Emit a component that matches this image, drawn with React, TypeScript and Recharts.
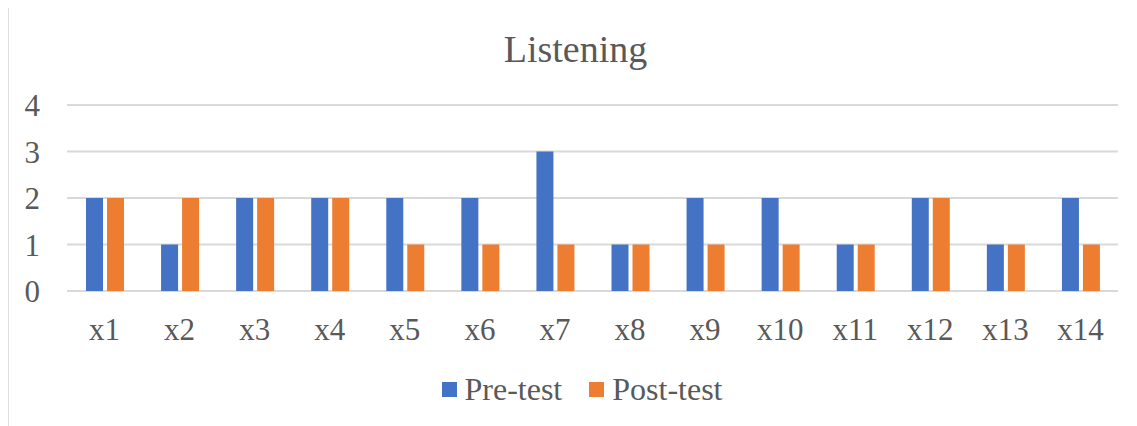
import React from "react";
import { BarChart, Bar, XAxis, YAxis, CartesianGrid } from "recharts";

// Listening scores per item, before and after the course
const items = ["x1", "x2", "x3", "x4", "x5", "x6", "x7", "x8", "x9", "x10", "x11", "x12", "x13", "x14"];
const preTest = [2, 1, 2, 2, 2, 2, 3, 1, 2, 2, 1, 2, 1, 2];
const postTest = [2, 2, 2, 2, 1, 1, 1, 1, 1, 1, 1, 2, 1, 1];
const yTicks = [0, 1, 2, 3, 4];

const seriesNames = { pre: "Pre-test", post: "Post-test" };
const BLUE = "#4472C4";
const ORANGE = "#ED7D31";
const TEXT = "#595959";
const GRID = "#D9D9D9";
const FRAME = "#D4D4D4";
const FONT = "'Liberation Serif', 'Times New Roman', serif";

const data = items.map((name, i) => ({ name, pre: preTest[i], post: postTest[i] }));

export default function App() {
  return (
    <div style={{ position: "relative", width: 1137, height: 426, margin: "-8px 0 0 -8px", overflow: "hidden" }}>
      <svg
        width={1137}
        height={426}
        style={{ position: "absolute", left: 0, top: 0 }}
      >
        <rect x={0} y={0} width={1137} height={426} fill="#ffffff" />
        {/* chart frame: only its left and top edges fall inside the view */}
        <path d="M7.5 426 L7.5 6.5 L1137 6.5" fill="none" stroke={FRAME} strokeWidth={2.5} />
        <text
          x={575.5}
          y={62}
          textAnchor="middle"
          fontFamily={FONT}
          fontSize={38}
          fill={TEXT}
        >
          Listening
        </text>
      </svg>
      <BarChart
        width={1137}
        height={426}
        data={data}
        margin={{ top: 105, right: 19, left: 7, bottom: 95 }}
        barSize={17}
        barGap={4}
        style={{ position: "absolute", left: 0, top: 0 }}
      >
        <CartesianGrid vertical={false} stroke={GRID} strokeWidth={2} />
        <XAxis
          dataKey="name"
          axisLine={false}
          tickLine={false}
          tickSize={0}
          tickMargin={27}
          height={40}
          interval={0}
          tick={{ fill: TEXT, fontSize: 31, fontFamily: FONT }}
        />
        <YAxis
          domain={[0, 4]}
          ticks={yTicks}
          axisLine={false}
          tickLine={false}
          tickSize={0}
          tickMargin={27}
          width={60}
          tick={{ fill: TEXT, fontSize: 31, fontFamily: FONT }}
        />
        <Bar dataKey="pre" name={seriesNames.pre} fill={BLUE} isAnimationActive={false} />
        <Bar dataKey="post" name={seriesNames.post} fill={ORANGE} isAnimationActive={false} />
      </BarChart>
      <div
        style={{
          position: "absolute",
          left: 0,
          top: 373,
          width: 1164,
          display: "flex",
          justifyContent: "center",
          alignItems: "center",
          fontSize: 32,
          lineHeight: "32px",
          color: TEXT,
          fontFamily: FONT,
        }}
      >
        {[
          { label: seriesNames.pre, color: BLUE },
          { label: seriesNames.post, color: ORANGE },
        ].map((s, i) => (
          <div key={s.label} style={{ display: "flex", alignItems: "center", marginLeft: i ? 27 : 0 }}>
            <span style={{ display: "inline-block", width: 15, height: 15, background: s.color, marginRight: 8 }} />
            <span>{s.label}</span>
          </div>
        ))}
      </div>
    </div>
  );
}
